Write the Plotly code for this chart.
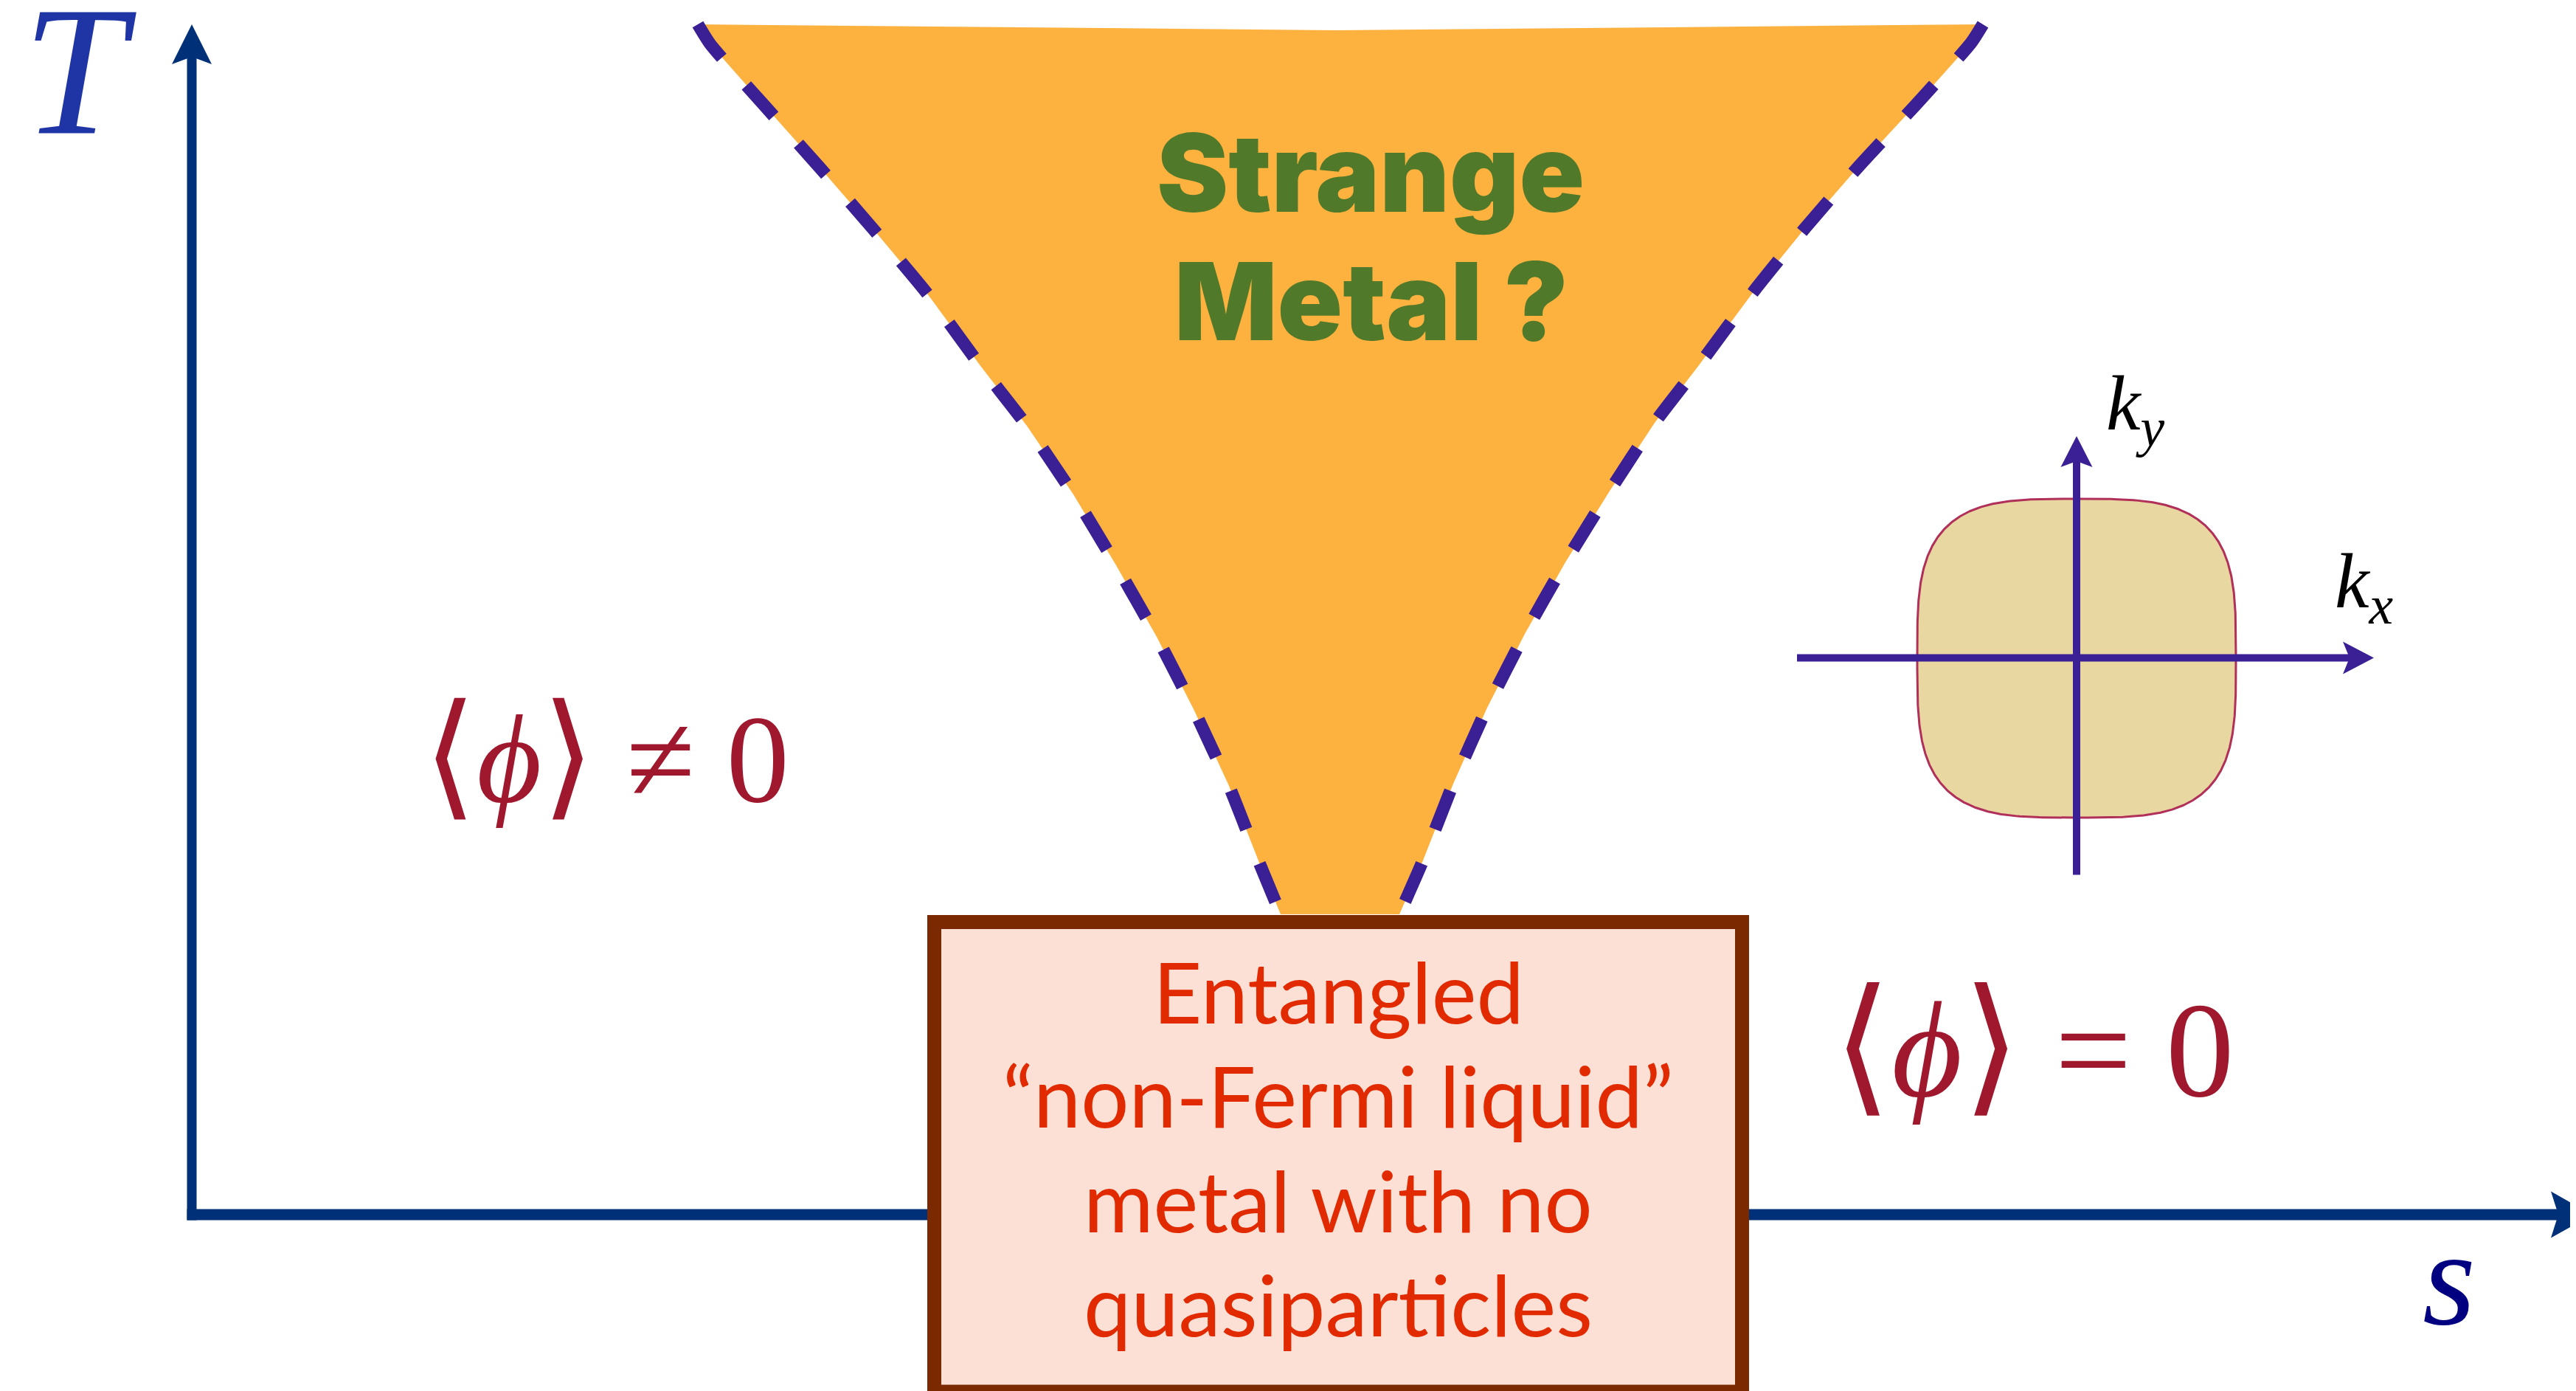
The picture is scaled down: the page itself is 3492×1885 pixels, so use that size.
import numpy as np
import plotly.graph_objects as go

# ---------------- data (diagram units: s horizontal, T vertical; 1 unit = 100 px) ----------
# phase boundary of the "strange metal" fan (left and right crossover lines, top to bottom)
left_s = [6.86, 7.03, 7.78, 8.52, 9.25, 9.97, 10.70, 11.32, 11.95, 12.53, 13.08, 13.59, 14.06, 14.47, 14.76]
left_T = [16.13, 15.86, 15.01, 14.18, 13.34, 12.48, 11.49, 10.69, 9.76, 8.80, 7.83, 6.83, 5.81, 4.77, 4.07]
right_s = [24.28, 24.12, 23.38, 22.61, 21.87, 21.18, 20.43, 19.83, 19.21, 18.62, 18.07, 17.56, 17.10, 16.69, 16.37]
right_T = [16.13, 15.88, 15.05, 14.22, 13.37, 12.52, 11.51, 10.73, 9.79, 8.84, 7.87, 6.87, 5.84, 4.80, 4.07]
top_mid_s = [15.55]
top_mid_T = [16.05]

# main axes (s, T)
T_axis_s = [0.0, 0.0]
T_axis_T = [-0.075, 15.70]
T_head_s = [0.0, -0.27, 0.0, 0.27]
T_head_T = [16.13, 15.59, 15.69, 15.59]
s_axis_s = [-0.065, 32.10]
s_axis_T = [0.0, 0.0]
s_head_s = [32.54, 31.98, 32.08, 31.98]
s_head_T = [0.0, 0.315, 0.0, -0.315]

# quantum critical box
box_s = [10.065, 21.015]
box_T = [-2.40, 3.965]

# inset: Fermi surface in k-space
fs_center = [25.55, 7.54]
fs_half = [2.16, 2.16]
fs_exponent = 3.5
kx_axis_s = [21.76, 29.25]
kx_axis_T = [7.545, 7.545]
kx_head_s = [29.58, 29.16, 29.25, 29.16]
kx_head_T = [7.545, 7.765, 7.545, 7.325]
ky_axis_s = [25.55, 25.55]
ky_axis_T = [4.605, 10.22]
ky_head_s = [25.55, 25.335, 25.55, 25.765]
ky_head_T = [10.55, 10.13, 10.21, 10.13]

# labels
box_lines = ["Entangled", "\u201cnon-Fermi liquid\u201d", "metal with no", "quasiparticles"]
box_lines_T = [3.04, 1.63, 0.21, -1.20]
box_text_s = 15.54
sm_lines = ["Strange", "Metal ?"]
sm_lines_s = [15.98, 15.99]
sm_lines_T = [14.12, 12.385]

# ---------------- figure ----------------
NAVY = "#003078"
INDIGO = "#3a1f95"
fig = go.Figure()

# strange metal fan fill
fan_s = left_s + right_s[::-1] + top_mid_s
fan_T = left_T + right_T[::-1] + top_mid_T
fig.add_trace(go.Scatter(x=fan_s, y=fan_T, mode="lines", fill="toself",
                         fillcolor="#fdb240", line=dict(width=0, color="#fdb240"),
                         hoverinfo="skip", showlegend=False))
# dashed crossover lines
for xs, ts in [(left_s, left_T), (right_s, right_T)]:
    fig.add_trace(go.Scatter(x=xs, y=ts, mode="lines",
                             line=dict(color=INDIGO, width=17, dash="56px,50px", shape="spline", smoothing=0.6),
                             hoverinfo="skip", showlegend=False))

# main axes
fig.add_trace(go.Scatter(x=T_axis_s, y=T_axis_T, mode="lines", line=dict(color=NAVY, width=13),
                         hoverinfo="skip", showlegend=False))
fig.add_trace(go.Scatter(x=s_axis_s, y=s_axis_T, mode="lines", line=dict(color=NAVY, width=15),
                         hoverinfo="skip", showlegend=False))
for hx, hy in [(T_head_s, T_head_T), (s_head_s, s_head_T)]:
    fig.add_trace(go.Scatter(x=hx, y=hy, mode="lines", fill="toself", fillcolor=NAVY,
                             line=dict(width=0, color=NAVY), hoverinfo="skip", showlegend=False))

# inset Fermi surface (superellipse)
th = np.linspace(0, 2 * np.pi, 721)
c, s_ = np.cos(th), np.sin(th)
fx = fs_center[0] + fs_half[0] * np.sign(c) * np.abs(c) ** (2 / fs_exponent)
fy = fs_center[1] + fs_half[1] * np.sign(s_) * np.abs(s_) ** (2 / fs_exponent)
fig.add_trace(go.Scatter(x=fx, y=fy, mode="lines", fill="toself", fillcolor="#e8d7a0",
                         line=dict(color="#b0305a", width=3), hoverinfo="skip", showlegend=False))
fig.add_trace(go.Scatter(x=kx_axis_s, y=kx_axis_T, mode="lines", line=dict(color=INDIGO, width=10),
                         hoverinfo="skip", showlegend=False))
fig.add_trace(go.Scatter(x=ky_axis_s, y=ky_axis_T, mode="lines", line=dict(color=INDIGO, width=10),
                         hoverinfo="skip", showlegend=False))
for hx, hy in [(kx_head_s, kx_head_T), (ky_head_s, ky_head_T)]:
    fig.add_trace(go.Scatter(x=hx, y=hy, mode="lines", fill="toself", fillcolor=INDIGO,
                             line=dict(width=0, color=INDIGO), hoverinfo="skip", showlegend=False))

# box
fig.add_shape(type="rect", xref="x", yref="y", x0=box_s[0], x1=box_s[1], y0=box_T[0], y1=box_T[1],
              line=dict(color="#7a2900", width=19), fillcolor="#fce0d6", layer="above")

SERIF = "Liberation Serif, DejaVu Serif, serif"
def bra(sz):
    return ('<span style="font-size:%dpx">\u27e8</span><i>\u03d5</i>'
            '<span style="font-size:%dpx">\u27e9</span>' % (sz, sz))

ann = []
ann.append(dict(x=-1.52, y=15.51, text="<i>T</i>", font=dict(family=SERIF, size=250, color="#2035a5")))
ann.append(dict(x=30.60, y=-0.85, text="<i>s</i>", font=dict(family=SERIF, size=185, color="#000080")))
for t, xs, ys in zip(sm_lines, sm_lines_s, sm_lines_T):
    ann.append(dict(x=xs, y=ys, text=t,
                    font=dict(family="Inter, DejaVu Sans, sans-serif", size=146, color="#507a2a", weight=900)))
ann.append(dict(x=5.62, y=6.23, text=bra(185) + " \u2260 0",
                font=dict(family=SERIF, size=170, color="#a0182e")))
ann.append(dict(x=24.97, y=2.30, text=bra(203) + " = 0",
                font=dict(family=SERIF, size=185, color="#a0182e")))
ann.append(dict(x=26.35, y=10.92, text="<i>k</i><sub><i>y</i></sub>",
                font=dict(family=SERIF, size=105, color="black")))
ann.append(dict(x=29.45, y=8.51, text="<i>k</i><sub><i>x</i></sub>",
                font=dict(family=SERIF, size=105, color="black")))
for line, ty in zip(box_lines, box_lines_T):
    ann.append(dict(x=box_text_s, y=ty, text=line,
                    font=dict(family="Lato, Open Sans, sans-serif", size=115, color="#e12a00")))
for a in ann:
    a.update(xref="x", yref="y", showarrow=False, xanchor="center", yanchor="middle")
fig.update_layout(annotations=ann)

# page body has an 8px margin: the figure covers page pixels 8..3492 and 8..1885
fig.update_layout(width=3484, height=1877, margin=dict(l=0, r=0, t=0, b=0),
                  paper_bgcolor="white", plot_bgcolor="white", showlegend=False,
                  xaxis=dict(range=[-2.52, 32.32], visible=False, fixedrange=True),
                  yaxis=dict(range=[-2.39, 16.38], visible=False, fixedrange=True))
fig.write_html("out.html")
